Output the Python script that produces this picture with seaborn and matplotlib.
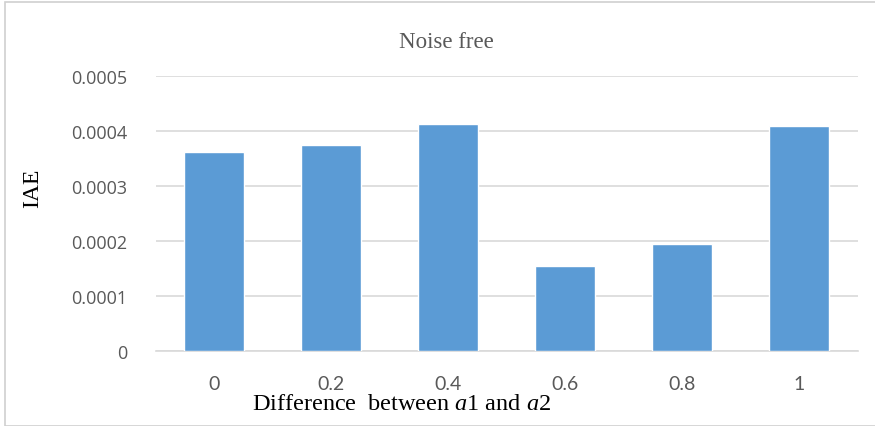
import matplotlib
matplotlib.use("Agg")
import matplotlib.pyplot as plt
import seaborn as sns
import pandas as pd
from matplotlib.patches import Rectangle

categories = ["0", "0.2", "0.4", "0.6", "0.8", "1"]
iae_values = [0.000362, 0.000375, 0.000413, 0.000155, 0.000195, 0.000409]
y_ticks = [0, 0.0001, 0.0002, 0.0003, 0.0004, 0.0005]
y_tick_labels = ["0", "0.0001", "0.0002", "0.0003", "0.0004", "0.0005"]

df = pd.DataFrame({"diff": categories, "IAE": iae_values})

sns.set_theme(style="white")
plt.rcParams["mathtext.fontset"] = "custom"
plt.rcParams["mathtext.rm"] = "Liberation Serif"
plt.rcParams["mathtext.it"] = "Liberation Serif:italic"

fig = plt.figure(figsize=(8.75, 4.27), dpi=100)
fig.patch.set_facecolor("white")
fig.patches.append(Rectangle((5 / 875, 0.0), 1.0, 1 - 3 / 427, transform=fig.transFigure,
                             fill=False, edgecolor="#d0d0d0", linewidth=1.2, zorder=0))

ax = fig.add_axes([155.5 / 875, 1 - 352 / 427, 702 / 875, 275 / 427])
sns.barplot(data=df, x="diff", y="IAE", color="#5b9bd5", saturation=1, width=0.52, ax=ax, zorder=3)

ax.set_ylim(0, 0.0005)
ax.set_yticks(y_ticks)
ax.set_yticklabels(y_tick_labels, fontsize=13, color="#595959", family="Open Sans")
for lbl in ax.get_xticklabels():
    lbl.set_fontsize(14)
    lbl.set_color("#595959")
    lbl.set_family("Lato")
ax.tick_params(axis="both", length=0)
ax.tick_params(axis="y", pad=20)
ax.tick_params(axis="x", pad=17)
ax.yaxis.grid(True, color="#d9d9d9", linewidth=1.2, zorder=0)
ax.set_axisbelow(True)
for s in ["top", "right", "left"]:
    ax.spines[s].set_visible(False)
ax.spines["bottom"].set_color("#d9d9d9")
ax.spines["bottom"].set_linewidth(1.2)

ax.set_ylabel("")
ax.set_xlabel("")
fig.text(33 / 875, 1 - 188 / 427, "IAE", fontsize=17, family="Liberation Serif",
         color="black", rotation=90, ha="center", va="center")
fig.text(402 / 875, 1 - 405 / 427, "Difference  between $a$1 and $a$2", fontsize=17.5,
         family="Liberation Serif", color="black", ha="center", va="center")
fig.text(446 / 875, 1 - 42 / 427, "Noise free", fontsize=16.5, family="Liberation Serif",
         color="#595959", ha="center", va="center")

fig.savefig("out.png", dpi=100)
